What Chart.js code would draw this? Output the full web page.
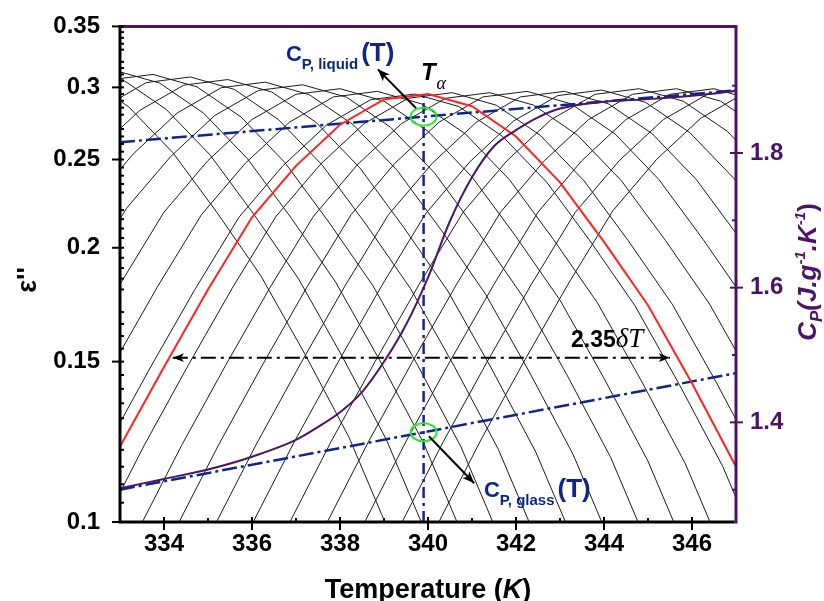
<!DOCTYPE html>
<html>
<head>
<meta charset="utf-8">
<script src="https://cdn.jsdelivr.net/npm/chart.js@4.4.1/dist/chart.umd.min.js"></script>
<style>
  html, body { margin: 0; padding: 0; background: #fff; }
  #wrap { width: 824px; height: 601px; }
</style>
</head>
<body>
<div id="wrap"><canvas id="chart" width="824" height="601"></canvas></div>
<script>
// red curve: eps'' at the alpha peak frequency, read at whole kelvins
const temperatures = [333, 334, 335, 336, 337, 338, 339, 340, 341, 342, 343, 344, 345, 346, 347];
const redLoss = [0.121, 0.148, 0.180, 0.216, 0.246, 0.273, 0.291, 0.295, 0.286, 0.265, 0.236, 0.203, 0.173, 0.142, 0.115];

// purple curve: Cp (right axis)
const cpTemps = [333, 334, 335, 336, 337, 337.5, 338, 338.5, 339, 339.5, 340, 340.5, 341, 341.5, 342, 342.5, 343, 344, 345, 346, 347];
const cpValues = [1.302, 1.316, 1.330, 1.349, 1.374, 1.393, 1.415, 1.445, 1.490, 1.545, 1.615, 1.699, 1.764, 1.810, 1.834, 1.853, 1.866, 1.876, 1.880, 1.885, 1.892];

// black mesh: loss peaks of the other isochrones, all with the red peak's shape
const peakTemps = [331.2, 332.05, 332.9, 333.75, 334.6, 335.45, 336.3, 337.15, 338.0, 338.85, 339.7,
  340.55, 341.4, 342.25, 343.1, 343.95, 344.8, 345.65, 346.5, 347.35, 348.2];
const peakHeights = [0.318, 0.316, 0.313, 0.310, 0.308, 0.306, 0.304, 0.302, 0.299, 0.297, 0.295,
  0.296, 0.296, 0.297, 0.297, 0.298, 0.299, 0.299, 0.299, 0.299, 0.300];
const profileOffsets = [-9, -8, -7, -6, -5, -4, -3, -2, -1, 0, 1, 2, 3, 4, 5, 6, 7, 8, 9];
const profileRatios = [0.26, 0.33, 0.41, 0.502, 0.61, 0.732, 0.834, 0.925, 0.986, 1, 0.969, 0.898, 0.80, 0.688, 0.586, 0.481, 0.39, 0.30, 0.23];

// Cp baselines (dash-dot)
const liquidTemps = [333, 347];
const liquidCp = [1.816, 1.893];
const glassTemps = [333, 347];
const glassCp = [1.300, 1.473];

const alphaTemp = 339.9;
const alphaPeak = 0.295;
const widthLoss = 0.1515;
const widthTemps = [334.2, 345.5];

// ticks
const xTicks = [334, 336, 338, 340, 342, 344, 346];
const xMinorTicks = [335, 337, 339, 341, 343, 345];
const lossTicks = [0.1, 0.15, 0.2, 0.25, 0.3, 0.35];
const cpTicks = [1.4, 1.6, 1.8];
const cpMinorTicks = [1.3, 1.5, 1.7, 1.9];

const lossMinorTicks = [];
for (let i = 21; i < 70; i += 1) {
  if (i % 10 !== 0 && i % 10 !== 5) lossMinorTicks.push(i / 200);
}

const BLUE = '#0e2689';
const PURPLE = '#4b1468';
const SANS = "'Liberation Sans', Arial, sans-serif";
const SERIF = "'Liberation Serif', 'Times New Roman', serif";
const DASH_DOT = [15, 4, 3, 4];

const pts = (xs, ys) => xs.map((x, i) => ({ x, y: ys[i] }));

const meshSets = peakTemps.map((peak, i) => ({
  data: profileOffsets.map((off, j) => ({ x: peak + off, y: peakHeights[i] * profileRatios[j] })),
  borderColor: '#1c1c1c',
  borderWidth: 1,
  pointRadius: 0,
  yAxisID: 'y',
  order: 20,
  clip: 0
}));

const line = (data, color, width, axis, order, extra) => Object.assign({
  data, borderColor: color, borderWidth: width, pointRadius: 0, yAxisID: axis, order, clip: 0
}, extra || {});

const datasets = [
  line(pts(temperatures, redLoss), '#ff2222', 2, 'y', 3),
  line(pts(cpTemps, cpValues), PURPLE, 2, 'y2', 2, { cubicInterpolationMode: 'monotone' }),
  line(pts(liquidTemps, liquidCp), BLUE, 2.5, 'y2', 4, { borderDash: DASH_DOT }),
  line(pts(glassTemps, glassCp), BLUE, 2.5, 'y2', 4, { borderDash: DASH_DOT }),
  line([{ x: alphaTemp, y: 0.1 }, { x: alphaTemp, y: alphaPeak }], BLUE, 2.5, 'y', 4, { borderDash: [11, 5, 3, 5] }),
  line(pts(widthTemps, [widthLoss, widthLoss]), '#000', 2, 'y', 5, { borderDash: [15, 5, 3, 5] })
].concat(meshSets);

// text and arrow positions, in data units
const liquidLabelAt = { t: 336.77, v: 0.3205 };
const glassLabelAt = { t: 341.27, v: 0.1065 };
const alphaLabelAt = { t: 339.84, v: 0.306 };
const widthLabelAt = { t: 343.25, v: 0.1555 };
const liquidArrow = [[339.73, 0.2846], [338.86, 0.314]];
const glassArrow = [[340.02, 0.1242], [341.05, 0.1103]];

const drawParts = (ctx, x, y, parts) => {
  let cx = x;
  parts.forEach((p) => {
    ctx.font = p.font;
    ctx.fillText(p.text, cx, y + (p.dy || 0));
    cx += ctx.measureText(p.text).width + (p.gap || 0);
  });
  return cx - x;
};

const partsWidth = (ctx, parts) => parts.reduce((w, p) => {
  ctx.font = p.font;
  return w + ctx.measureText(p.text).width + (p.gap || 0);
}, 0);

const arrowHead = (ctx, x1, y1, x2, y2, size) => {
  const ang = Math.atan2(y2 - y1, x2 - x1);
  ctx.beginPath();
  ctx.moveTo(x2, y2);
  ctx.lineTo(x2 - size * Math.cos(ang - 0.38), y2 - size * Math.sin(ang - 0.38));
  ctx.lineTo(x2 - size * 0.7 * Math.cos(ang), y2 - size * 0.7 * Math.sin(ang));
  ctx.lineTo(x2 - size * Math.cos(ang + 0.38), y2 - size * Math.sin(ang + 0.38));
  ctx.closePath();
  ctx.fill();
};

const arrow = (ctx, x1, y1, x2, y2) => {
  ctx.beginPath();
  ctx.moveTo(x1, y1);
  ctx.lineTo(x2, y2);
  ctx.stroke();
  arrowHead(ctx, x1, y1, x2, y2, 13);
};

const decor = {
  id: 'decor',
  afterDatasetsDraw(chart) {
    const { ctx, scales } = chart;
    const x = scales.x;
    const y = scales.y;
    const y2 = scales.y2;
    ctx.save();

    // green rings on the Cp baselines
    ctx.strokeStyle = '#2ee62e';
    ctx.lineWidth = 2;
    [[liquidTemps, liquidCp], [glassTemps, glassCp]].forEach(([ts, cs]) => {
      const f = (alphaTemp - ts[0]) / (ts[1] - ts[0]);
      const cp = cs[0] + f * (cs[1] - cs[0]);
      ctx.beginPath();
      ctx.ellipse(x.getPixelForValue(alphaTemp), y2.getPixelForValue(cp), 13, 9, 0, 0, Math.PI * 2);
      ctx.stroke();
    });

    // arrows
    ctx.strokeStyle = '#000';
    ctx.fillStyle = '#000';
    ctx.lineWidth = 2;
    [liquidArrow, glassArrow].forEach(([p, q]) => {
      arrow(ctx, x.getPixelForValue(p[0]), y.getPixelForValue(p[1]), x.getPixelForValue(q[0]), y.getPixelForValue(q[1]));
    });
    const wy = y.getPixelForValue(widthLoss);
    const wl = x.getPixelForValue(widthTemps[0]);
    const wr = x.getPixelForValue(widthTemps[1]);
    arrowHead(ctx, wr, wy, wl, wy, 12);
    arrowHead(ctx, wl, wy, wr, wy, 12);

    // labels
    ctx.textBaseline = 'alphabetic';
    ctx.textAlign = 'left';
    ctx.fillStyle = BLUE;
    drawParts(ctx, x.getPixelForValue(liquidLabelAt.t), y.getPixelForValue(liquidLabelAt.v), [
      { text: 'C', font: `bold 22px ${SANS}` },
      { text: 'P, liquid', font: `bold 15px ${SANS}`, dy: 8, gap: 3 },
      { text: '(T)', font: `bold 26px ${SANS}` }
    ]);
    drawParts(ctx, x.getPixelForValue(glassLabelAt.t), y.getPixelForValue(glassLabelAt.v), [
      { text: 'C', font: `bold 22px ${SANS}` },
      { text: 'P, glass', font: `bold 15px ${SANS}`, dy: 8, gap: 3 },
      { text: '(T)', font: `bold 26px ${SANS}` }
    ]);
    ctx.fillStyle = '#000';
    drawParts(ctx, x.getPixelForValue(alphaLabelAt.t), y.getPixelForValue(alphaLabelAt.v), [
      { text: 'T', font: `bold italic 24px ${SANS}`, gap: 1 },
      { text: 'α', font: `italic 18px ${SERIF}`, dy: 9 }
    ]);
    drawParts(ctx, x.getPixelForValue(widthLabelAt.t), y.getPixelForValue(widthLabelAt.v), [
      { text: '2.35', font: `bold 23px ${SANS}` },
      { text: 'δT', font: `italic 27px ${SERIF}` }
    ]);
    ctx.restore();
  },
  afterDraw(chart) {
    const { ctx, chartArea: a, scales } = chart;
    const x = scales.x;
    const y = scales.y;
    const y2 = scales.y2;
    ctx.save();
    ctx.lineCap = 'butt';

    // frame: black left/bottom, purple top/right
    ctx.lineWidth = 3;
    ctx.strokeStyle = PURPLE;
    ctx.beginPath();
    ctx.moveTo(a.left, a.top);
    ctx.lineTo(a.right, a.top);
    ctx.lineTo(a.right, a.bottom + 1.5);
    ctx.stroke();
    ctx.strokeStyle = '#000';
    ctx.beginPath();
    ctx.moveTo(a.left, a.top - 1.5);
    ctx.lineTo(a.left, a.bottom);
    ctx.lineTo(a.right - 1.5, a.bottom);
    ctx.stroke();

    // tick marks
    ctx.lineWidth = 2;
    lossTicks.forEach((v) => {
      const py = y.getPixelForValue(v);
      ctx.beginPath(); ctx.moveTo(a.left - 8, py); ctx.lineTo(a.left + 4, py); ctx.stroke();
    });
    lossMinorTicks.forEach((v) => {
      const py = y.getPixelForValue(v);
      ctx.beginPath(); ctx.moveTo(a.left, py); ctx.lineTo(a.left + 4, py); ctx.stroke();
    });
    xTicks.forEach((v) => {
      const px = x.getPixelForValue(v);
      ctx.beginPath(); ctx.moveTo(px, a.bottom - 5); ctx.lineTo(px, a.bottom + 8); ctx.stroke();
    });
    xMinorTicks.forEach((v) => {
      const px = x.getPixelForValue(v);
      ctx.beginPath(); ctx.moveTo(px, a.bottom - 4); ctx.lineTo(px, a.bottom); ctx.stroke();
    });
    ctx.strokeStyle = PURPLE;
    cpTicks.forEach((v) => {
      const py = y2.getPixelForValue(v);
      ctx.beginPath(); ctx.moveTo(a.right - 6, py); ctx.lineTo(a.right + 7, py); ctx.stroke();
    });
    cpMinorTicks.forEach((v) => {
      const py = y2.getPixelForValue(v);
      ctx.beginPath(); ctx.moveTo(a.right - 4, py); ctx.lineTo(a.right, py); ctx.stroke();
    });

    // axis titles
    ctx.textBaseline = 'alphabetic';
    ctx.textAlign = 'left';
    ctx.fillStyle = '#000';
    const xt = [
      { text: 'Temperature (', font: `bold 27px ${SANS}` },
      { text: 'K', font: `bold italic 27px ${SANS}` },
      { text: ')', font: `bold 27px ${SANS}` }
    ];
    drawParts(ctx, (a.left + a.right) / 2 - partsWidth(ctx, xt) / 2, 598, xt);

    const yt = [{ text: 'ε\'\'', font: `bold 27px ${SANS}` }];
    ctx.save();
    ctx.translate(36, 280);
    ctx.rotate(-Math.PI / 2);
    drawParts(ctx, -partsWidth(ctx, yt) / 2, 0, yt);
    ctx.restore();

    const rt = [
      { text: 'C', font: `bold italic 26px ${SANS}` },
      { text: 'P', font: `bold italic 17px ${SANS}`, dy: 6 },
      { text: '(J.g', font: `bold italic 26px ${SANS}` },
      { text: '-1', font: `bold italic 15px ${SANS}`, dy: -11 },
      { text: '.K', font: `bold italic 26px ${SANS}` },
      { text: '-1', font: `bold italic 15px ${SANS}`, dy: -11 },
      { text: ')', font: `bold 26px ${SANS}` }
    ];
    ctx.fillStyle = PURPLE;
    ctx.save();
    ctx.translate(816, 272);
    ctx.rotate(-Math.PI / 2);
    drawParts(ctx, -partsWidth(ctx, rt) / 2, 0, rt);
    ctx.restore();

    ctx.restore();
  }
};

const tickFont = { family: SANS, size: 24, weight: 'bold' };

new Chart(document.getElementById('chart'), {
  type: 'line',
  data: { datasets },
  options: {
    responsive: false,
    animation: false,
    devicePixelRatio: 1,
    layout: { padding: { top: 25, left: 0, right: 0, bottom: 0 } },
    plugins: { legend: { display: false }, tooltip: { enabled: false } },
    scales: {
      x: {
        type: 'linear',
        min: 333,
        max: 347,
        afterBuildTicks: (scale) => { scale.ticks = xTicks.map((value) => ({ value })); },
        afterFit: (scale) => { scale.height = 79; },
        grid: { display: false },
        border: { display: false },
        ticks: { color: '#000', font: tickFont, padding: 0, maxRotation: 0, autoSkip: false, callback: (v) => String(v) }
      },
      y: {
        type: 'logarithmic',
        position: 'left',
        min: 0.1,
        max: 0.35,
        afterBuildTicks: (scale) => { scale.ticks = lossTicks.map((value) => ({ value })); },
        afterFit: (scale) => { scale.width = 120; },
        grid: { display: false },
        border: { display: false },
        ticks: { color: '#000', font: tickFont, padding: 12, autoSkip: false, callback: (v) => String(v) }
      },
      y2: {
        type: 'linear',
        position: 'right',
        min: 1.252,
        max: 1.988,
        afterBuildTicks: (scale) => { scale.ticks = cpTicks.map((value) => ({ value })); },
        afterFit: (scale) => { scale.width = 88; },
        grid: { display: false },
        border: { display: false },
        ticks: { color: PURPLE, font: tickFont, padding: 6, autoSkip: false, callback: (v) => v.toFixed(1) }
      }
    }
  },
  plugins: [decor]
});
</script>
</body>
</html>
